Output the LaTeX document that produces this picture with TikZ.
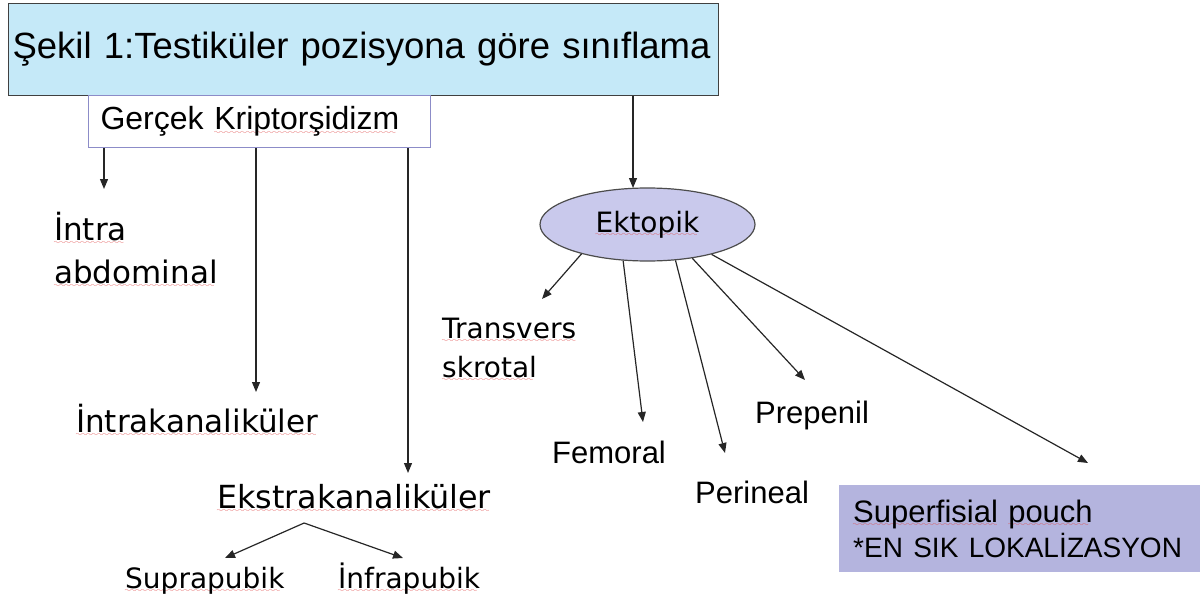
\documentclass[tikz,border=0pt]{standalone}
\usepackage{fontspec}
\setmainfont{Liberation Sans}
\newfontfamily\tah{DejaVu Sans}
\usetikzlibrary{arrows.meta,shapes.geometric}
\definecolor{titlefill}{HTML}{C5E9F8}
\definecolor{ekfill}{HTML}{C9C9EC}
\definecolor{boxfill}{HTML}{B4B4DE}
\definecolor{gkborder}{HTML}{8C8CC8}
\definecolor{sqred}{HTML}{E04848}
\font\sqwave=lasy10 at 8pt
\newcommand\sq[1]{\setbox0\hbox{#1}\rlap{\lower4.5pt\hbox to\wd0{\color{sqred}\leaders\hbox{\sqwave\char58}\hfill}}\copy0\relax}
\begin{document}
\begin{tikzpicture}[x=1pt,y=-1pt,
  arr/.style={draw=black!85, line width=1.2pt, -{Triangle[length=10pt,width=8pt]}},
  lbl/.style={inner sep=0pt, anchor=base west, font=\fontsize{31}{35}\selectfont},
  tlbl/.style={inner sep=0pt, anchor=base west, align=left, font=\tah\fontsize{31}{43}\selectfont},
  tlblsm/.style={inner sep=0pt, anchor=base west, align=left, font=\tah\fontsize{28}{39}\selectfont}]
\useasboundingbox (0,0) rectangle (1203,602);
% title
\node[draw=black!75, line width=1.2pt, fill=titlefill, minimum width=710pt, minimum height=92pt,
  text width=702pt, inner xsep=4pt, inner ysep=0pt, align=left, anchor=north west,
  font=\fontsize{36.5}{40}\selectfont] (title) at (8,3)
  {Şekil 1:Testiküler pozisyona göre sınıflama};
% Gercek box
\node[draw=gkborder, line width=1pt, fill=white, minimum width=342pt, minimum height=52pt,
  text width=318pt, inner xsep=12pt, inner ysep=0pt, align=left, anchor=north west,
  font=\fontsize{32}{35}\selectfont] (gk) at (88,95) {Gerçek \sq{Kriptorşidizm}};
% Ektopik
\node[ellipse, draw=black!70, line width=1.2pt, fill=ekfill, minimum width=215pt, minimum height=73pt,
  inner sep=0pt, font=\tah\fontsize{28}{30}\selectfont] (ek) at (647.5,224.5) {\sq{Ektopik}};
% labels (base = baseline of the last line)
\node[tlbl] (intra) at (54,283) {\sq{İntra}\\\sq{abdominal}};
\node[tlbl] (intrak) at (76,432) {\sq{İntrakanaliküler}};
\node[tlbl,font=\tah\fontsize{31.8}{43}\selectfont] (ekstra) at (217,508) {\sq{Ekstrakanaliküler}};
\node[tlblsm] (sup) at (125,588) {\sq{Suprapubik}};
\node[tlblsm] (inf) at (338,588) {\sq{İnfrapubik}};
\node[tlblsm] (trans) at (442,377) {\sq{Transvers}\\\sq{skrotal}};
\node[lbl] (fem) at (552,463) {Femoral};
\node[lbl] (per) at (695,503) {Perineal};
\node[lbl] (pre) at (755,423) {Prepenil};
\node[fill=boxfill, minimum width=361pt, minimum height=87pt, text width=333pt, inner xsep=14pt,
  inner ysep=0pt, align=left, anchor=north west, font=\fontsize{31}{35}\selectfont] (sp) at (839,485)
  {\sq{Superfisial} \sq{pouch}\\{\fontsize{28}{35}\selectfont *EN SIK LOKALİZASYON}};
% arrow tips
\coordinate (tIntra) at (104,189);
\coordinate (tIntrak) at (256,392);
\coordinate (tEkstra) at (408,473);
\coordinate (tEk) at (633,188);
\coordinate (tTrans) at (542,299);
\coordinate (tFem) at (643,422);
\coordinate (tPer) at (725,453);
\coordinate (tPre) at (805,380);
\coordinate (tSp) at (1088,463);
\coordinate (tSup) at (225,558);
\coordinate (tInf) at (403,558);
% connectors
\draw[arr] (gk.south -| tIntra) -- (tIntra);
\draw[arr] (gk.south -| tIntrak) -- (tIntrak);
\draw[arr] (gk.south -| tEkstra) -- (tEkstra);
\draw[arr] (title.south -| tEk) -- (tEk);
\draw[arr] (ek.204) -- (tTrans);
\draw[arr] (ek.236) -- (tFem);
\draw[arr] (ek.308) -- (tPer);
\draw[arr] (ek.323) -- (tPre);
\draw[arr] (ek.335) -- (tSp);
\draw[arr] ([shift={(-50,15)}]ekstra.base) -- (tSup);
\draw[arr] ([shift={(-50,15)}]ekstra.base) -- (tInf);
\end{tikzpicture}
\end{document}
